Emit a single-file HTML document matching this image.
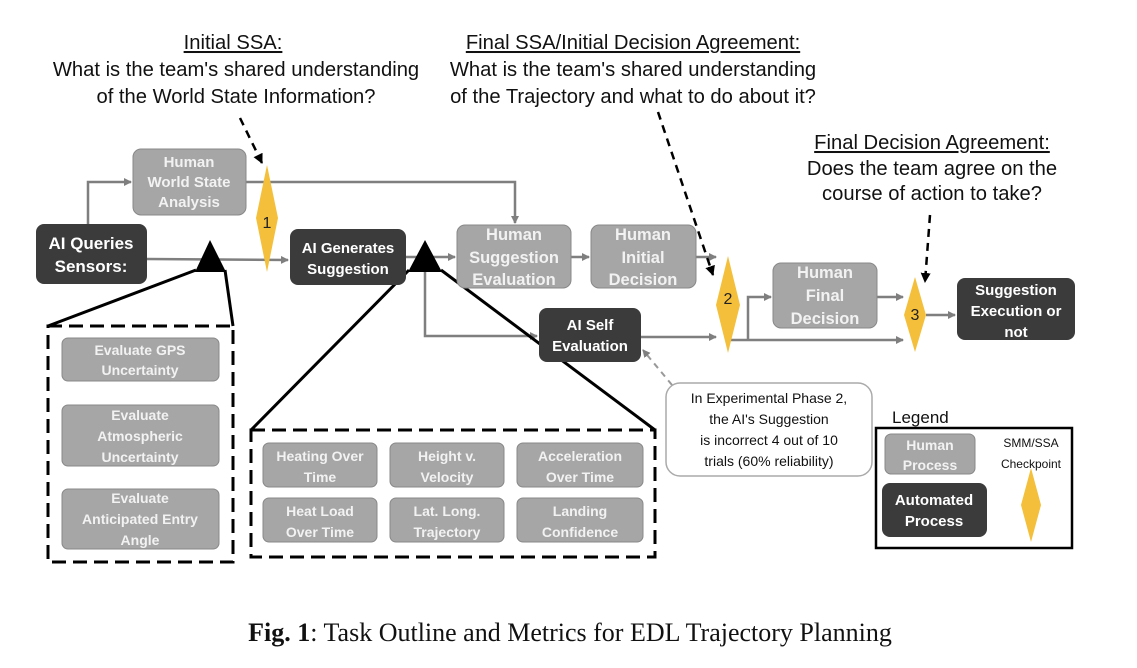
<!DOCTYPE html>
<html><head><style>
body{margin:0;background:#fff;}
svg text{font-family:"Liberation Sans",sans-serif;}
</style></head><body>
<svg width="1137" height="663" viewBox="0 0 1137 663" xmlns="http://www.w3.org/2000/svg">
<defs>
<marker id="a" markerWidth="8" markerHeight="8" refX="7" refY="4" orient="auto" markerUnits="userSpaceOnUse"><path d="M0,0 L8,4 L0,8 z" fill="#7f7f7f"/></marker>
<marker id="b" markerWidth="10" markerHeight="10" refX="9" refY="5" orient="auto" markerUnits="userSpaceOnUse"><path d="M0,0 L10,5 L0,10 z" fill="#000"/></marker>
</defs>
<g font-size="20.2" text-anchor="middle" fill="#111">
<text x="233" y="49" text-decoration="underline">Initial SSA:</text>
<text x="236" y="76">What is the team's shared understanding</text>
<text x="236" y="103">of the World State Information?</text>
<text x="633" y="49" text-decoration="underline">Final SSA/Initial Decision Agreement:</text>
<text x="633" y="76">What is the team's shared understanding</text>
<text x="633" y="103">of the Trajectory and what to do about it?</text>
<text x="932" y="149" text-decoration="underline">Final Decision Agreement:</text>
<text x="932" y="175">Does the team agree on the</text>
<text x="932" y="200">course of action to take?</text>
</g>
<g stroke="#7f7f7f" stroke-width="2.5" fill="none">
<polyline points="88,224 88,182 131,182" marker-end="url(#a)"/>
<polyline points="246,182 515,182 515,223" marker-end="url(#a)"/>
<line x1="147" y1="259" x2="288" y2="260" marker-end="url(#a)"/>
<line x1="406" y1="257" x2="455" y2="257" marker-end="url(#a)"/>
<polyline points="425,260 425,336 537,336" marker-end="url(#a)"/>
<line x1="571" y1="257" x2="589" y2="257" marker-end="url(#a)"/>
<line x1="696" y1="257" x2="716" y2="257" marker-end="url(#a)"/>
<line x1="641" y1="337" x2="716" y2="337" marker-end="url(#a)"/>
<line x1="728" y1="340" x2="903" y2="340" marker-end="url(#a)"/>
<polyline points="748,340 748,297 771,297" marker-end="url(#a)"/>
<line x1="877" y1="297" x2="903" y2="297" marker-end="url(#a)"/>
<line x1="926" y1="315" x2="955" y2="315" marker-end="url(#a)"/>
</g>
<g stroke="#000" stroke-width="3">
<line x1="196" y1="270" x2="48" y2="326"/><line x1="225" y1="270" x2="233" y2="326"/>
<line x1="409" y1="270" x2="251" y2="430"/><line x1="441" y1="270" x2="655" y2="430"/>
</g>
<polygon points="210,240 195,272 226,272" fill="#000"/>
<polygon points="425,240 408,272 442,272" fill="#000"/>
<g stroke="#000" stroke-width="2.5" stroke-dasharray="8,6" fill="none">
<line x1="240" y1="118" x2="262" y2="163" marker-end="url(#b)"/>
<line x1="658" y1="112" x2="713" y2="275" marker-end="url(#b)"/>
<line x1="930" y1="215" x2="925" y2="282" marker-end="url(#b)"/>
</g>
<line x1="672" y1="385" x2="643" y2="350" stroke="#999" stroke-width="2" stroke-dasharray="6,5" marker-end="url(#a)"/>
<g stroke="#000" stroke-width="3" stroke-dasharray="14,7" fill="none">
<rect x="48" y="326" width="185" height="236"/>
<rect x="251" y="430" width="404" height="127"/>
</g>
<g fill="#f4bf3a">
<polygon points="267,165 278,218 267,272 256,218"/>
<polygon points="728,256 740,305 728,353 716,305"/>
<polygon points="915,277 926,315 915,352 904,315"/>
<polygon points="1031,468 1041,505 1031,542 1021,505"/>
</g>
<g font-size="16" text-anchor="middle" fill="#222">
<text x="267" y="228">1</text><text x="728" y="304">2</text><text x="915" y="320">3</text>
</g>
<g fill="#a6a6a6" stroke="#888" stroke-width="1">
<rect x="133" y="149" width="113" height="66" rx="8"/>
<rect x="457" y="225" width="114" height="63" rx="8"/>
<rect x="591" y="225" width="105" height="63" rx="8"/>
<rect x="773" y="263" width="104" height="65" rx="8"/>
<rect x="62" y="338" width="157" height="43" rx="6"/>
<rect x="62" y="405" width="157" height="61" rx="6"/>
<rect x="62" y="489" width="157" height="60" rx="6"/>
<rect x="263" y="443" width="114" height="44" rx="6"/>
<rect x="390" y="443" width="114" height="44" rx="6"/>
<rect x="517" y="443" width="126" height="44" rx="6"/>
<rect x="263" y="498" width="114" height="44" rx="6"/>
<rect x="390" y="498" width="114" height="44" rx="6"/>
<rect x="517" y="498" width="126" height="44" rx="6"/>
<rect x="885" y="434" width="90" height="40" rx="6"/>
</g>
<g fill="#3b3b3b">
<rect x="36" y="224" width="111" height="60" rx="8"/>
<rect x="290" y="229" width="116" height="56" rx="8"/>
<rect x="539" y="308" width="102" height="54" rx="8"/>
<rect x="957" y="278" width="118" height="62" rx="8"/>
<rect x="882" y="483" width="105" height="54" rx="8"/>
</g>
<rect x="666" y="383" width="206" height="93" rx="14" fill="#fff" stroke="#aaa" stroke-width="1.5"/>
<rect x="876" y="428" width="196" height="120" fill="none" stroke="#000" stroke-width="2.5"/>
<g font-size="15" text-anchor="middle" fill="#f2f2f2" font-weight="bold">
<text x="189" y="167">Human</text><text x="189" y="187">World State</text><text x="189" y="207">Analysis</text>
<g font-size="16.5">
<text x="514" y="240">Human</text><text x="514" y="263">Suggestion</text><text x="514" y="285">Evaluation</text>
<text x="643" y="240">Human</text><text x="643" y="263">Initial</text><text x="643" y="285">Decision</text>
<text x="825" y="278">Human</text><text x="825" y="301">Final</text><text x="825" y="324">Decision</text>
</g>
<g font-size="14">
<text x="140" y="355">Evaluate GPS</text><text x="140" y="375">Uncertainty</text>
<text x="140" y="420">Evaluate</text><text x="140" y="441">Atmospheric</text><text x="140" y="462">Uncertainty</text>
<text x="140" y="503">Evaluate</text><text x="140" y="524">Anticipated Entry</text><text x="140" y="545">Angle</text>
<text x="320" y="461">Heating Over</text><text x="320" y="482">Time</text>
<text x="447" y="461">Height v.</text><text x="447" y="482">Velocity</text>
<text x="580" y="461">Acceleration</text><text x="580" y="482">Over Time</text>
<text x="320" y="516">Heat Load</text><text x="320" y="537">Over Time</text>
<text x="447" y="516">Lat. Long.</text><text x="447" y="537">Trajectory</text>
<text x="580" y="516">Landing</text><text x="580" y="537">Confidence</text>
<text x="930" y="450">Human</text><text x="930" y="470">Process</text>
</g>
</g>
<g text-anchor="middle" fill="#fff" font-weight="bold">
<text x="91" y="249" font-size="17">AI Queries</text><text x="91" y="272" font-size="17">Sensors:</text>
<text x="348" y="253" font-size="15">AI Generates</text><text x="348" y="274" font-size="15">Suggestion</text>
<text x="590" y="330" font-size="15">AI Self</text><text x="590" y="351" font-size="15">Evaluation</text>
<text x="1016" y="295" font-size="15">Suggestion</text><text x="1016" y="316" font-size="15">Execution or</text><text x="1016" y="337" font-size="15">not</text>
<text x="934" y="505" font-size="15">Automated</text><text x="934" y="526" font-size="15">Process</text>
</g>
<g font-size="14" text-anchor="middle" fill="#111">
<text x="769" y="403">In Experimental Phase 2,</text>
<text x="769" y="424">the AI's Suggestion</text>
<text x="769" y="445">is incorrect 4 out of 10</text>
<text x="769" y="466">trials (60% reliability)</text>
<text x="1031" y="447" font-size="12">SMM/SSA</text>
<text x="1031" y="468" font-size="12">Checkpoint</text>
</g>
<text x="892" y="423" font-size="17" fill="#111">Legend</text>
<text x="570" y="641" font-size="26" text-anchor="middle" fill="#111" style="font-family:'Liberation Serif',serif"><tspan font-weight="bold">Fig. 1</tspan>: Task Outline and Metrics for EDL Trajectory Planning</text>
</svg>
</body></html>
